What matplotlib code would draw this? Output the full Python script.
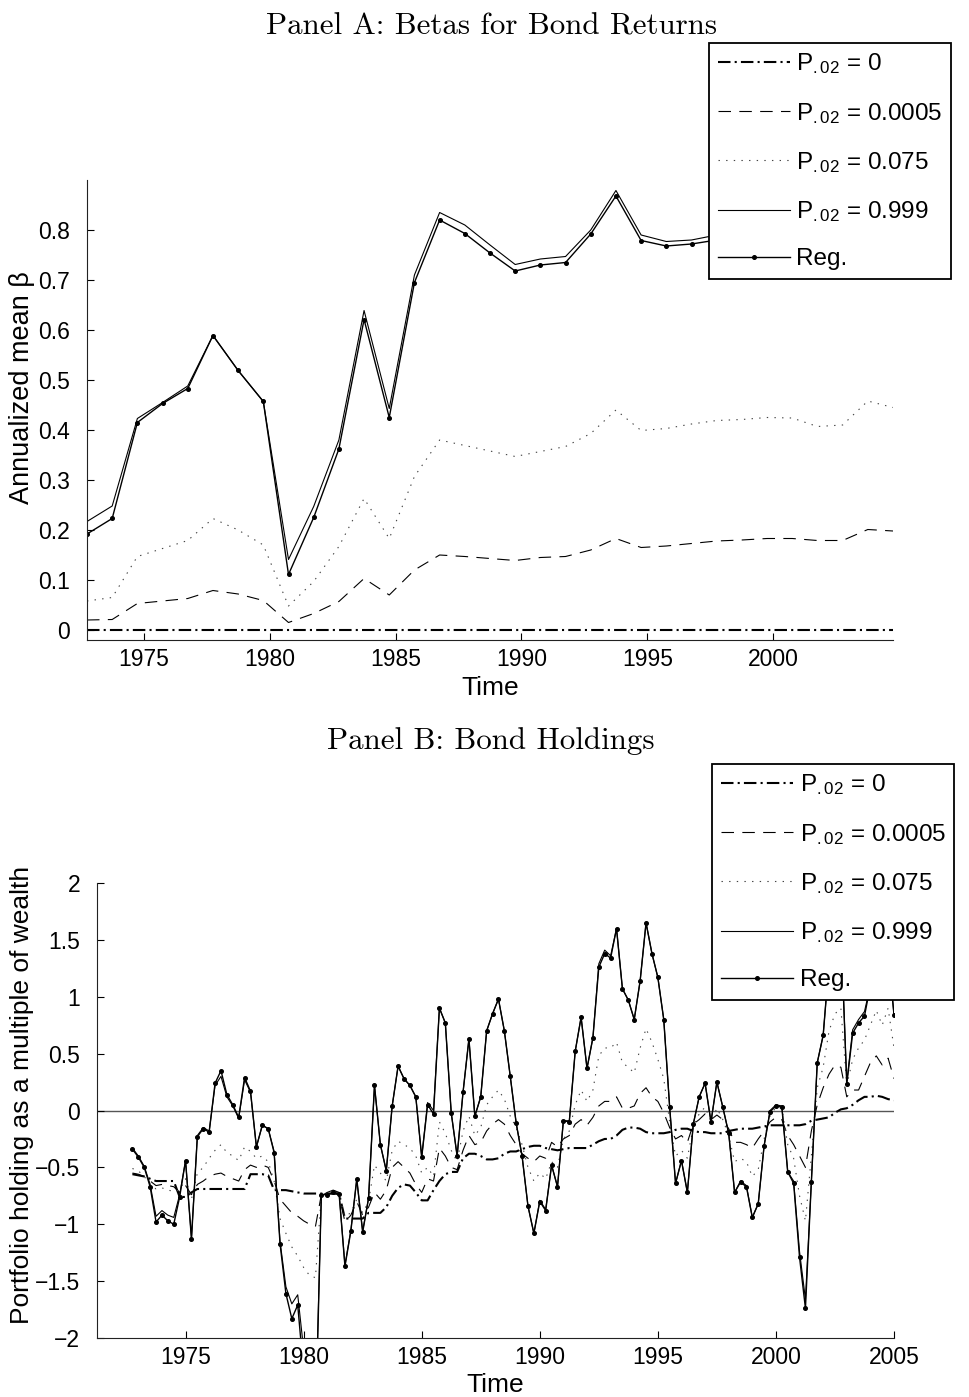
import numpy as np
import matplotlib
matplotlib.use('Agg')
import matplotlib.pyplot as plt

# Fonts: Helvetica-like for axes, LaTeX-like serif for panel titles
plt.rcParams['font.family'] = 'Liberation Sans'
plt.rcParams['mathtext.fontset'] = 'custom'
plt.rcParams['mathtext.rm'] = 'Liberation Sans'
plt.rcParams['mathtext.it'] = 'Liberation Sans:italic'
plt.rcParams['lines.scale_dashes'] = False

# ---------------- Panel A data (annual, mid-year dates) ----------------
years_a = np.arange(1972.75, 2005.0, 1.0)
p0_a = [0.0, 0.0, 0.0, 0.0, 0.0, 0.0, 0.0, 0.0, 0.0, 0.0, 0.0,
        0.0, 0.0, 0.0, 0.0, 0.0, 0.0, 0.0, 0.0, 0.0, 0.0, 0.0,
        0.0, 0.0, 0.0, 0.0, 0.0, 0.0, 0.0, 0.0, 0.0, 0.0, 0.0]
p0005_a = [0.020, 0.021, 0.053, 0.058, 0.063, 0.079, 0.072, 0.059, 0.015, 0.033, 0.057,
           0.103, 0.070, 0.120, 0.150, 0.147, 0.143, 0.139, 0.145, 0.147, 0.160, 0.183,
           0.165, 0.168, 0.173, 0.178, 0.180, 0.183, 0.183, 0.179, 0.179, 0.201, 0.198]
p075_a = [0.058, 0.065, 0.147, 0.163, 0.179, 0.223, 0.200, 0.170, 0.048, 0.097, 0.167,
          0.263, 0.183, 0.307, 0.380, 0.369, 0.358, 0.347, 0.357, 0.367, 0.393, 0.440,
          0.399, 0.403, 0.412, 0.419, 0.421, 0.425, 0.424, 0.407, 0.410, 0.458, 0.445]
p999_a = [0.217, 0.248, 0.423, 0.455, 0.488, 0.589, 0.519, 0.457, 0.141, 0.247, 0.380,
          0.639, 0.443, 0.710, 0.835, 0.810, 0.770, 0.731, 0.742, 0.747, 0.800, 0.879,
          0.790, 0.777, 0.780, 0.790, 0.800, 0.810, 0.820, 0.800, 0.800, 0.840, 0.830]
reg_a = [0.192, 0.223, 0.415, 0.453, 0.483, 0.589, 0.519, 0.457, 0.111, 0.225, 0.362,
         0.621, 0.425, 0.695, 0.820, 0.793, 0.754, 0.718, 0.730, 0.735, 0.792, 0.868,
         0.779, 0.768, 0.772, 0.780, 0.790, 0.800, 0.810, 0.790, 0.790, 0.830, 0.820]

# ---------------- Panel B data (quarterly) ----------------
quarters_b = np.arange(1972.75, 2005.01, 0.25)
p0_b = [-0.56, -0.57, -0.58, -0.60, -0.62, -0.62, -0.62, -0.62, -0.76, -0.76,
        -0.72, -0.69, -0.69, -0.69, -0.69, -0.69, -0.69, -0.69, -0.69, -0.69,
        -0.56, -0.56, -0.56, -0.57, -0.70, -0.70, -0.70, -0.71, -0.72, -0.73,
        -0.73, -0.73, -0.73, -0.73, -0.73, -0.73, -0.95, -0.95, -0.95, -0.95,
        -0.90, -0.90, -0.90, -0.85, -0.75, -0.68, -0.65, -0.66, -0.72, -0.79,
        -0.79, -0.70, -0.62, -0.56, -0.54, -0.54, -0.42, -0.38, -0.38, -0.40,
        -0.43, -0.43, -0.42, -0.38, -0.36, -0.36, -0.34, -0.32, -0.31, -0.31,
        -0.33, -0.34, -0.35, -0.34, -0.33, -0.33, -0.33, -0.33, -0.30, -0.27,
        -0.25, -0.25, -0.22, -0.17, -0.15, -0.15, -0.16, -0.19, -0.20, -0.20,
        -0.20, -0.19, -0.17, -0.16, -0.16, -0.18, -0.19, -0.19, -0.20, -0.20,
        -0.20, -0.18, -0.17, -0.16, -0.16, -0.16, -0.15, -0.14, -0.13, -0.13,
        -0.13, -0.13, -0.13, -0.13, -0.12, -0.09, -0.08, -0.07, -0.06, -0.02,
        0.01, 0.02, 0.05, 0.09, 0.12, 0.12, 0.13, 0.12, 0.10, 0.09]
p0005_b = [-0.55, -0.56, -0.58, -0.62, -0.66, -0.65, -0.66, -0.67, -0.72, -0.66,
           -0.74, -0.65, -0.62, -0.58, -0.56, -0.55, -0.58, -0.60, -0.62, -0.52,
           -0.48, -0.50, -0.48, -0.50, -0.62, -0.78, -0.84, -0.90, -0.93, -0.97,
           -1.00, -1.02, -0.74, -0.74, -0.73, -0.74, -0.98, -0.92, -0.80, -0.92,
           -0.85, -0.72, -0.78, -0.70, -0.50, -0.45, -0.50, -0.55, -0.65, -0.72,
           -0.60, -0.62, -0.33, -0.40, -0.50, -0.52, -0.35, -0.22, -0.30, -0.28,
           -0.18, -0.12, -0.08, -0.12, -0.22, -0.30, -0.38, -0.42, -0.45, -0.40,
           -0.42, -0.28, -0.32, -0.25, -0.22, -0.12, -0.08, -0.13, -0.06, 0.04,
           0.08, 0.08, 0.12, 0.02, 0.02, 0.04, 0.15, 0.20, 0.12, 0.08,
           -0.02, -0.15, -0.25, -0.22, -0.28, -0.12, -0.08, -0.03, -0.08, -0.04,
           -0.08, -0.16, -0.28, -0.28, -0.30, -0.33, -0.25, -0.18, -0.10, -0.06,
           -0.08, -0.22, -0.30, -0.40, -0.50, -0.18, 0.05, 0.20, 0.32, 0.40,
           0.38, 0.12, 0.18, 0.18, 0.30, 0.42, 0.48, 0.40, 0.46, 0.28]
p075_b = [-0.51, -0.53, -0.58, -0.65, -0.69, -0.68, -0.70, -0.71, -0.70, -0.60,
          -0.78, -0.55, -0.50, -0.42, -0.35, -0.30, -0.37, -0.40, -0.44, -0.32,
          -0.36, -0.42, -0.40, -0.45, -0.62, -0.95, -1.08, -1.20, -1.28, -1.38,
          -1.45, -1.47, -0.74, -0.74, -0.72, -0.75, -0.93, -0.90, -0.78, -0.90,
          -0.80, -0.48, -0.55, -0.62, -0.35, -0.27, -0.30, -0.33, -0.40, -0.55,
          -0.50, -0.58, -0.10, -0.20, -0.35, -0.45, -0.18, -0.05, -0.22, -0.15,
          0.05, 0.12, 0.18, 0.10, -0.05, -0.15, -0.30, -0.50, -0.62, -0.55,
          -0.60, -0.45, -0.50, -0.25, -0.18, 0.05, 0.18, 0.08, 0.18, 0.48,
          0.55, 0.55, 0.60, 0.42, 0.38, 0.33, 0.55, 0.72, 0.60, 0.45,
          0.28, -0.10, -0.40, -0.35, -0.42, -0.14, -0.03, 0.03, -0.10, 0.02,
          -0.08, -0.22, -0.45, -0.42, -0.45, -0.58, -0.52, -0.25, -0.05, 0.03,
          0.02, -0.30, -0.42, -0.75, -0.97, -0.40, 0.20, 0.38, 0.70, 0.85,
          0.90, 0.22, 0.45, 0.55, 0.62, 0.75, 0.88, 0.75, 0.90, 0.55]
p999_b = [-0.33, -0.40, -0.49, -0.65, -0.93, -0.88, -0.92, -0.94, -0.74, -0.44,
          -1.12, -0.22, -0.15, -0.18, 0.22, 0.30, 0.12, 0.04, -0.07, 0.27,
          0.16, -0.32, -0.13, -0.16, -0.36, -1.15, -1.55, -1.70, -1.62, -2.10,
          -2.80, -2.70, -0.75, -0.72, -0.70, -0.72, -1.36, -1.05, -0.61, -1.06,
          -0.77, 0.22, -0.30, -0.53, 0.04, 0.39, 0.28, 0.22, 0.12, -0.41,
          0.07, 0.00, 0.90, 0.77, -0.02, -0.40, 0.16, 0.63, -0.05, 0.12,
          0.70, 0.85, 0.98, 0.70, 0.30, -0.11, -0.40, -0.84, -1.08, -0.79,
          -0.87, -0.48, -0.67, -0.09, -0.09, 0.52, 0.82, 0.37, 0.64, 1.29,
          1.41, 1.36, 1.60, 1.07, 0.97, 0.80, 1.14, 1.65, 1.38, 1.17,
          0.80, 0.03, -0.64, -0.44, -0.72, -0.12, 0.12, 0.24, -0.10, 0.25,
          0.03, -0.20, -0.72, -0.62, -0.66, -0.94, -0.82, -0.31, 0.00, 0.05,
          0.04, -0.54, -0.62, -1.24, -1.66, -0.63, 0.42, 0.66, 1.30, 1.50,
          1.60, 0.25, 0.71, 0.80, 0.87, 1.10, 1.30, 1.20, 1.40, 0.84]
reg_b = [-0.34, -0.41, -0.50, -0.67, -0.98, -0.92, -0.97, -1.00, -0.76, -0.44,
         -1.13, -0.23, -0.16, -0.19, 0.24, 0.35, 0.14, 0.05, -0.06, 0.29,
         0.17, -0.32, -0.13, -0.16, -0.37, -1.17, -1.61, -1.83, -1.71, -2.30,
         -3.00, -2.80, -0.74, -0.74, -0.72, -0.73, -1.37, -1.06, -0.60, -1.07,
         -0.77, 0.22, -0.30, -0.53, 0.04, 0.39, 0.28, 0.22, 0.12, -0.41,
         0.05, -0.03, 0.90, 0.77, -0.02, -0.40, 0.16, 0.63, -0.05, 0.12,
         0.70, 0.85, 0.98, 0.70, 0.30, -0.11, -0.40, -0.84, -1.08, -0.80,
         -0.88, -0.48, -0.67, -0.09, -0.10, 0.52, 0.82, 0.37, 0.64, 1.26,
         1.38, 1.34, 1.60, 1.07, 0.97, 0.80, 1.14, 1.65, 1.38, 1.17,
         0.80, 0.03, -0.64, -0.44, -0.72, -0.12, 0.12, 0.24, -0.10, 0.25,
         0.03, -0.20, -0.72, -0.63, -0.67, -0.94, -0.82, -0.31, -0.01, 0.04,
         0.03, -0.54, -0.64, -1.29, -1.74, -0.63, 0.42, 0.66, 1.30, 1.50,
         1.60, 0.23, 0.68, 0.77, 0.83, 1.10, 1.30, 1.20, 1.40, 0.84]

labels = ['P$_{.02}$ = 0', 'P$_{.02}$ = 0.0005', 'P$_{.02}$ = 0.075',
          'P$_{.02}$ = 0.999', 'Reg.']

# line styles, MATLAB look
styles = [
    dict(color='black', lw=1.5, dashes=(9, 3, 1.5, 3)),
    dict(color='black', lw=0.8, dashes=(9, 6)),
    dict(color='#444444', lw=0.8, dashes=(1, 4.5)),
    dict(color='black', lw=0.8, linestyle='-'),
    dict(color='black', lw=1.0, linestyle='-', marker='o', markersize=2.6),
]

W, H = 969, 1397
fig = plt.figure(figsize=(W / 100, H / 100), dpi=100)


def style_axes(ax):
    for s in ['top', 'right']:
        ax.spines[s].set_visible(False)
    for s in ['left', 'bottom']:
        ax.spines[s].set_linewidth(0.8)
        ax.spines[s].set_color('#222222')
    ax.tick_params(direction='in', length=5, width=0.8, labelsize=16.5)
    ax.tick_params(axis='y', pad=12)
    ax.tick_params(axis='x', pad=6)


def add_legend(ax, handles, x0, y0):
    ax.legend(handles, labels, loc='upper left',
              bbox_to_anchor=(x0 / W, 1 - y0 / H), bbox_transform=fig.transFigure,
              fontsize=17.5, frameon=True, fancybox=False, edgecolor='black',
              framealpha=1, handlelength=3.0, handletextpad=0.25,
              labelspacing=1.0, borderpad=0.35, borderaxespad=0)
    ax.get_legend().get_frame().set_linewidth(1.3)


# ---------------- Panel A ----------------
ax_a = fig.add_axes([87 / W, 1 - 640 / H, 806 / W, 460 / H])
hs = []
for data, st in zip([p0_a, p0005_a, p075_a, p999_a, reg_a], styles):
    hs.append(ax_a.plot(years_a, data, **st)[0])
ax_a.set_xlim(1972.75, 2004.75)
ax_a.set_ylim(-0.02, 0.9)
ax_a.set_xticks([1975, 1980, 1985, 1990, 1995, 2000])
ax_a.set_yticks(np.arange(0, 0.81, 0.1))
ax_a.set_yticklabels(['0', '0.1', '0.2', '0.3', '0.4', '0.5', '0.6', '0.7', '0.8'])
style_axes(ax_a)
add_legend(ax_a, hs, 709, 43)

fig.text(491 / W, 1 - 27 / H, 'Panel A: Betas for Bond Returns', ha='center', va='center',
         fontfamily='cmr10', fontsize=22.3)
fig.text(490 / W, 1 - 688 / H, 'Time', ha='center', va='center', fontsize=19)
fig.text(22 / W, 1 - 388 / H, 'Annualized mean β', ha='center', va='center',
         rotation=90, fontsize=19.5)

# ---------------- Panel B ----------------
ax_b = fig.add_axes([97 / W, 1 - 1338 / H, 797 / W, 455 / H])
ax_b.axhline(0, color='#555555', lw=1.0, zorder=1)
hs = []
for data, st in zip([p0_b, p0005_b, p075_b, p999_b, reg_b], styles):
    hs.append(ax_b.plot(quarters_b, data, zorder=2, **st)[0])
ax_b.set_xlim(1971.25, 2005)
ax_b.set_ylim(-2, 2)
ax_b.set_xticks([1975, 1980, 1985, 1990, 1995, 2000, 2005])
ax_b.set_yticks(np.arange(-2, 2.01, 0.5))
ax_b.set_yticklabels(['\u22122', '\u22121.5', '\u22121', '\u22120.5', '0',
                      '0.5', '1', '1.5', '2'])
style_axes(ax_b)
add_legend(ax_b, hs, 712, 764)

fig.text(491 / W, 1 - 741 / H, 'Panel B: Bond Holdings', ha='center', va='center',
         fontfamily='cmr10', fontsize=22.3)
fig.text(495 / W, 1 - 1385 / H, 'Time', ha='center', va='center', fontsize=19)
fig.text(22 / W, 1 - 1095 / H, 'Portfolio holding as a multiple of wealth',
         ha='center', va='center', rotation=90, fontsize=19)

fig.savefig('out.png', dpi=100)
